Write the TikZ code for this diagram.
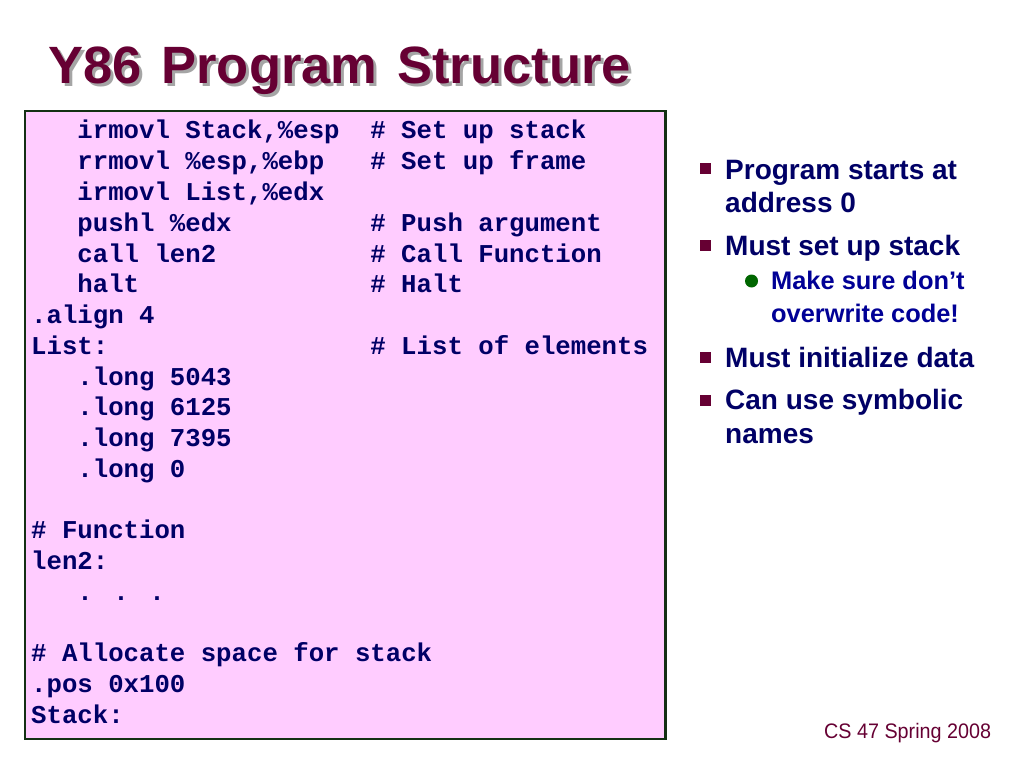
\documentclass[tikz,border=0pt]{standalone}
\usepackage{fontspec}
\setmainfont{Liberation Sans}
\newfontfamily\codefont{Liberation Mono}
\newfontfamily\footfont[FakeStretch=0.94]{Liberation Sans}
\definecolor{titlecol}{RGB}{102,0,51}
\definecolor{shadowcol}{RGB}{165,165,165}
\definecolor{codecol}{RGB}{0,0,102}
\definecolor{boxfill}{RGB}{255,204,255}
\definecolor{boxline}{RGB}{20,48,20}
\definecolor{bullcol}{RGB}{0,0,102}
\definecolor{subcol}{RGB}{0,0,150}
\definecolor{dotcol}{RGB}{0,102,0}
\tikzset{
  code/.style={anchor=base west, inner sep=0pt, text=codecol,
    font=\codefont\bfseries\fontsize{25.7pt}{30pt}\selectfont},
  ttl/.style={anchor=base west, inner sep=0pt,
    font=\bfseries\fontsize{52.5pt}{60pt}\selectfont},
  bultext/.style={anchor=base west, inner sep=0pt, text=bullcol,
    font=\bfseries\fontsize{28pt}{32pt}\selectfont},
  subtext/.style={anchor=base west, inner sep=0pt, text=subcol,
    font=\bfseries\fontsize{25.4pt}{30pt}\selectfont},
  sqbullet/.style={rectangle, fill=titlecol, inner sep=0pt, minimum size=11pt},
  dotbullet/.style={circle, fill=dotcol, inner sep=0pt, minimum size=13pt},
}
\begin{document}
\begin{tikzpicture}[x=1pt,y=-1pt]
\useasboundingbox (0,0) rectangle (1024,767);
\fill[white] (0,0) rectangle (1024,767);
% title
\node[ttl, text=shadowcol] (tshadow) at (51,87) {Y86\hspace{20pt}Program\hspace{20pt}Structure};
\node[ttl, text=titlecol] (title) at (48,84) {Y86\hspace{20pt}Program\hspace{20pt}Structure};
% code box
\draw[boxline, line width=2.2pt, fill=boxfill] (25,111) rectangle (665.5,738.7);
\def\ca{31}
\def\cb{77.26}
\def\cc{370.2}
\node[code] (l0)  at (\cb,139)    {irmovl Stack,\%esp};
\node[code] (k0)  at (\cc,139)    {\# Set up stack};
\node[code] (l1)  at (\cb,169.75) {rrmovl \%esp,\%ebp};
\node[code] (k1)  at (\cc,169.75) {\# Set up frame};
\node[code] (l2)  at (\cb,200.5)  {irmovl List,\%edx};
\node[code] (l3)  at (\cb,231.25) {pushl \%edx};
\node[code] (k3)  at (\cc,231.25) {\# Push argument};
\node[code] (l4)  at (\cb,262)    {call len2};
\node[code] (k4)  at (\cc,262)    {\# Call Function};
\node[code] (l5)  at (\cb,292.75) {halt};
\node[code] (k5)  at (\cc,292.75) {\# Halt};
\node[code] (l6)  at (\ca,323.5)  {.align 4};
\node[code] (l7)  at (\ca,354.25) {List:};
\node[code] (k7)  at (\cc,354.25) {\# List of elements};
\node[code] (l8)  at (\cb,385)    {.long 5043};
\node[code] (l9)  at (\cb,415.75) {.long 6125};
\node[code] (l10) at (\cb,446.5)  {.long 7395};
\node[code] (l11) at (\cb,477.25) {.long 0};
\node[code] (l13) at (\ca,538.75) {\# Function};
\node[code] (l14) at (\ca,569.5)  {len2:};
\node[code] (l15) at (\cb,600.25) {. . .};
\node[code] (l17) at (\ca,661.75) {\# Allocate space for stack};
\node[code] (l18) at (\ca,692.5)  {.pos 0x100};
\node[code] (l19) at (\ca,723.25) {Stack:};
% bullets
\node[sqbullet] (s1) at (705.5,169) {};
\node[bultext] (b1a) at (725,179.5) {Program starts at};
\node[bultext] (b1b) at (725,213) {address 0};
\node[sqbullet] (s2) at (705.5,245.5) {};
\node[bultext] (b2) at (725,255.5) {Must set up stack};
\node[dotbullet] (d1) at (751.5,281) {};
\node[subtext] (sb1) at (771,289) {Make sure don’t};
\node[subtext] (sb2) at (771,322) {overwrite code!};
\node[sqbullet] (s3) at (705.5,357.5) {};
\node[bultext] (b3) at (725,367) {Must initialize data};
\node[sqbullet] (s4) at (705.5,400.5) {};
\node[bultext] (b4a) at (725,409.5) {Can use symbolic};
\node[bultext] (b4b) at (725,443) {names};
% footer
\node[anchor=base west, inner sep=0pt, text=titlecol, font=\footfont\fontsize{21pt}{24pt}\selectfont] (foot) at (824,738) {CS 47 Spring 2008};
\end{tikzpicture}
\end{document}
